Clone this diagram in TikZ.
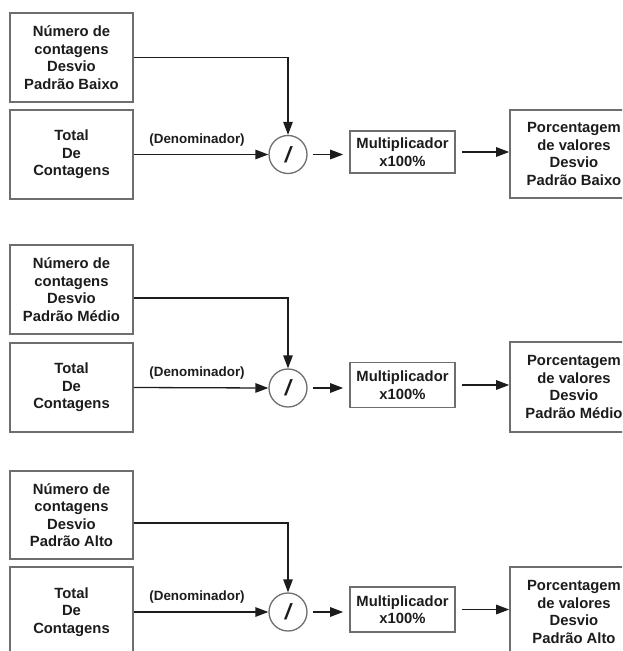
\documentclass[tikz,border=0pt]{standalone}
\usepackage{fontspec}
\setmainfont{Liberation Sans}
\usetikzlibrary{arrows.meta}
\definecolor{boxline}{HTML}{6E6E6E}
\definecolor{ink}{HTML}{1C1C1C}
\tikzset{
  blk/.style={draw=boxline, line width=1.6pt, fill=white, inner sep=0pt,
    align=center, text=ink, font=\bfseries\fontsize{14.8}{17.5}\selectfont},
  srcbox/.style={blk, minimum width=123pt},
  mulbox/.style={blk, minimum width=105pt},
  pctbox/.style={blk, minimum width=128pt},
  divop/.style={draw=boxline, line width=1.3pt, circle, minimum size=38pt,
    inner sep=0pt, text=ink, font=\bfseries\itshape\fontsize{22}{22}\selectfont},
  link/.style={draw=ink, line width=1.3pt, -{Triangle[length=13pt,width=9.5pt]}},
  lbl/.style={text=ink, font=\bfseries\fontsize{13.4}{15}\selectfont, inner sep=0pt}
}
\begin{document}
\begin{tikzpicture}[x=1pt, y=-1pt]
\useasboundingbox (0,0) rectangle (622,651);
\clip (0,0) rectangle (622,651);

% ---- low deviation ----
\node[srcbox, minimum height=89pt] (num1) at (71.5,57.5) {Número de\\contagens\\Desvio\\Padrão Baixo};
\node[srcbox, minimum height=89pt] (tot1) at (71.5,154.5) {Total\\De\\Contagens};
\node[divop] (div1) at (288,154.5) {/};
\node[mulbox, minimum height=42pt] (mul1) at (402.5,152) {Multiplicador\\x100\%};
\node[pctbox, minimum height=88pt] (pct1) at (574,154) {Porcentagem\\de valores\\Desvio\\Padrão Baixo};
\draw[link] (num1.east) -| (div1.north);
\draw[link] (tot1.east) -- node[lbl, above=8pt, pos=0.47] (den1) {(Denominador)} (div1.west);
\draw[link, shorten <=5pt, shorten >=6pt] (div1.east) -- (div1.east -| mul1.west);
\draw[link, shorten <=6pt] (mul1.east) -- (mul1.east -| pct1.west);

% ---- medium deviation ----
\node[srcbox, minimum height=89pt] (num2) at (71.5,289.5) {Número de\\contagens\\Desvio\\Padrão Médio};
\node[srcbox, minimum height=89pt] (tot2) at (71.5,387.5) {Total\\De\\Contagens};
\node[divop] (div2) at (288,388) {/};
\node[mulbox, minimum height=45pt] (mul2) at (402.5,385) {Multiplicador\\x100\%};
\node[pctbox, minimum height=90pt] (pct2) at (574,387) {Porcentagem\\de valores\\Desvio\\Padrão Médio};
\draw[link] ([yshift=-8.5pt]num2.east) -| (div2.north);
\draw[link] (tot2.east) -- node[lbl, above=8pt, pos=0.47] (den2) {(Denominador)} (div2.west);
\draw[link, shorten <=5pt, shorten >=6pt] (div2.east) -- (div2.east -| mul2.west);
\draw[link, shorten <=6pt] (mul2.east) -- (mul2.east -| pct2.west);

% ---- high deviation ----
\node[srcbox, minimum height=88pt] (num3) at (71.5,515) {Número de\\contagens\\Desvio\\Padrão Alto};
\node[srcbox, minimum height=90pt] (tot3) at (71.5,612) {Total\\De\\Contagens};
\node[divop] (div3) at (288,612) {/};
\node[mulbox, minimum height=45pt] (mul3) at (402.5,609.5) {Multiplicador\\x100\%};
\node[pctbox, minimum height=90pt] (pct3) at (574,612) {Porcentagem\\de valores\\Desvio\\Padrão Alto};
\draw[link] ([yshift=-8pt]num3.east) -| (div3.north);
\draw[link] (tot3.east) -- node[lbl, above=8pt, pos=0.47] (den3) {(Denominador)} (div3.west);
\draw[link, shorten <=5pt, shorten >=6pt] (div3.east) -- (div3.east -| mul3.west);
\draw[link, shorten <=6pt] (mul3.east) -- (mul3.east -| pct3.west);
\end{tikzpicture}
\end{document}
